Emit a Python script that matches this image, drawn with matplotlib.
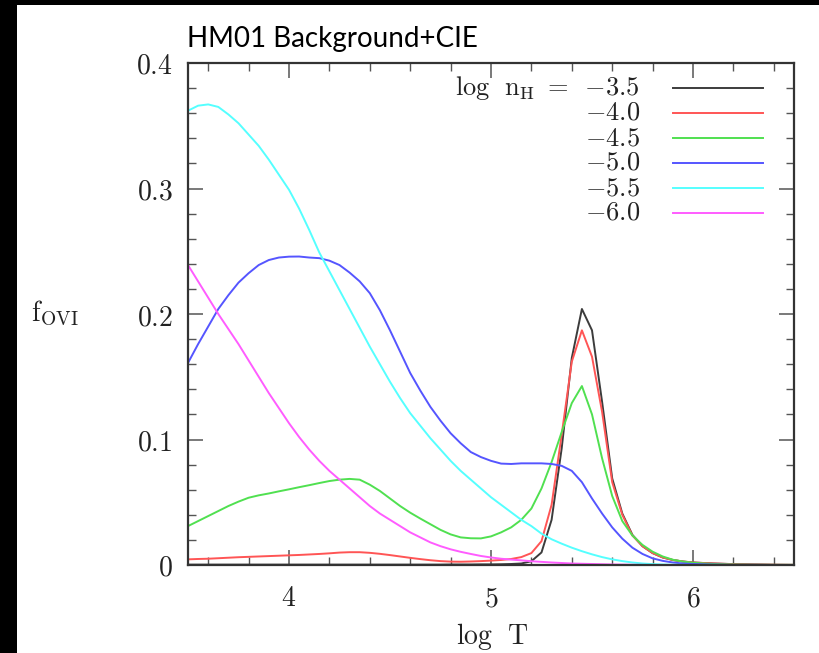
import matplotlib
matplotlib.use("Agg")
import matplotlib.pyplot as plt
from matplotlib.patches import Rectangle
from matplotlib.ticker import MultipleLocator, FixedLocator, FixedFormatter

plt.rcParams['mathtext.fontset'] = 'cm'

# ---------------- data ----------------
logT = [3.50, 3.55, 3.60, 3.65, 3.70, 3.75, 3.80, 3.85, 3.90, 3.95,
        4.00, 4.05, 4.10, 4.15, 4.20, 4.25, 4.30, 4.35, 4.40, 4.45,
        4.50, 4.55, 4.60, 4.65, 4.70, 4.75, 4.80, 4.85, 4.90, 4.95,
        5.00, 5.05, 5.10, 5.15, 5.20, 5.25, 5.30, 5.35, 5.40, 5.45,
        5.50, 5.55, 5.60, 5.65, 5.70, 5.75, 5.80, 5.85, 5.90, 5.95,
        6.00, 6.10, 6.20, 6.30, 6.40, 6.50]

f_m35 = [0.0003, 0.0003, 0.0003, 0.0003, 0.0003, 0.0003, 0.0003, 0.0003, 0.0003, 0.0003,
         0.0003, 0.0003, 0.0003, 0.0003, 0.0003, 0.0003, 0.0003, 0.0003, 0.0003, 0.0003,
         0.0003, 0.0003, 0.0003, 0.0003, 0.0003, 0.0003, 0.0004, 0.0004, 0.0004, 0.0005,
         0.0005, 0.0006, 0.0008, 0.0012, 0.0030, 0.010, 0.036, 0.093, 0.165, 0.204,
         0.187, 0.130, 0.069, 0.041, 0.024, 0.015, 0.0095, 0.006, 0.004, 0.0028,
         0.0020, 0.0012, 0.0007, 0.0004, 0.0002, 0.0001]
f_m40 = [0.0045, 0.0048, 0.0050, 0.0054, 0.0058, 0.0062, 0.0065, 0.0068, 0.0071, 0.0074,
         0.0077, 0.0080, 0.0084, 0.0088, 0.0093, 0.0099, 0.0102, 0.0102, 0.0097, 0.0089,
         0.0079, 0.0068, 0.0057, 0.0047, 0.0038, 0.0031, 0.0027, 0.0026, 0.0028, 0.0031,
         0.0035, 0.0040, 0.0048, 0.0063, 0.0095, 0.019, 0.048, 0.104, 0.162, 0.187,
         0.166, 0.122, 0.066, 0.040, 0.0235, 0.015, 0.0095, 0.006, 0.004, 0.0028,
         0.0020, 0.0012, 0.0007, 0.0004, 0.0002, 0.0001]
f_m45 = [0.031, 0.035, 0.039, 0.043, 0.047, 0.0505, 0.0536, 0.0555, 0.057, 0.0587,
         0.0603, 0.062, 0.0636, 0.0653, 0.0669, 0.068, 0.0686, 0.068, 0.064, 0.059,
         0.053, 0.047, 0.0417, 0.037, 0.0325, 0.028, 0.0244, 0.022, 0.0213, 0.0212,
         0.0228, 0.026, 0.030, 0.036, 0.045, 0.061, 0.082, 0.106, 0.129, 0.1426,
         0.120, 0.085, 0.055, 0.035, 0.0235, 0.016, 0.0106, 0.0068, 0.0042, 0.0027,
         0.0018, 0.0008, 0.0004, 0.0002, 0.0001, 0.0001]
f_m50 = [0.161, 0.176, 0.190, 0.204, 0.215, 0.225, 0.2325, 0.239, 0.243, 0.245,
         0.2457, 0.2458, 0.245, 0.2445, 0.2425, 0.239, 0.233, 0.226, 0.2166, 0.203,
         0.187, 0.170, 0.153, 0.139, 0.126, 0.115, 0.105, 0.097, 0.090, 0.086,
         0.083, 0.0808, 0.0805, 0.081, 0.081, 0.081, 0.0805, 0.079, 0.075, 0.066,
         0.053, 0.041, 0.030, 0.021, 0.0138, 0.0088, 0.0053, 0.0033, 0.0020, 0.0012,
         0.0008, 0.0003, 0.0001, 0.0001, 0.0, 0.0]
f_m55 = [0.362, 0.366, 0.367, 0.365, 0.359, 0.352, 0.343, 0.334, 0.323, 0.311,
         0.299, 0.284, 0.267, 0.249, 0.234, 0.219, 0.204, 0.189, 0.174, 0.160,
         0.146, 0.133, 0.121, 0.111, 0.101, 0.092, 0.083, 0.075, 0.068, 0.061,
         0.054, 0.048, 0.042, 0.036, 0.031, 0.025, 0.0205, 0.017, 0.0138, 0.011,
         0.0085, 0.0063, 0.0045, 0.0031, 0.0020, 0.0012, 0.0007, 0.0004, 0.0002, 0.0001,
         0.0, 0.0, 0.0, 0.0, 0.0, 0.0]
f_m60 = [0.239, 0.226, 0.213, 0.200, 0.188, 0.176, 0.163, 0.150, 0.137, 0.125,
         0.113, 0.102, 0.092, 0.083, 0.075, 0.068, 0.061, 0.054, 0.047, 0.041,
         0.036, 0.031, 0.026, 0.022, 0.018, 0.015, 0.0125, 0.0105, 0.0088, 0.0072,
         0.0060, 0.0050, 0.0043, 0.0037, 0.0030, 0.0025, 0.0020, 0.0016, 0.0012, 0.0010,
         0.0008, 0.0006, 0.0004, 0.0003, 0.0002, 0.0001, 0.0, 0.0, 0.0, 0.0,
         0.0, 0.0, 0.0, 0.0, 0.0, 0.0]

series = [f_m35, f_m40, f_m45, f_m50, f_m55, f_m60]
legend_labels = [r'$\mathrm{log\ \ n_{H}\ =\ \,}{-3.5}$', r'$-4.0$', r'$-4.5$',
                 r'$-5.0$', r'$-5.5$', r'$-6.0$']
colors = ['#3c3c3c', '#ff5555', '#50e050', '#5555ff', '#55ffff', '#ff5cff']

x_ticks = [4, 5, 6]
x_ticklabels = [r'$4$', r'$5$', r'$6$']
y_ticks = [0.0, 0.1, 0.2, 0.3, 0.4]
y_ticklabels = [r'$0$', r'$0.1$', r'$0.2$', r'$0.3$', r'$0.4$']

title_text = "HM01 Background+CIE"
xlabel_text = r'$\mathrm{log\ \ T}$'
ylabel_text = r'$\mathrm{f_{OVI}}$'

# ---------------- figure ----------------
W, H = 820, 653
fig = plt.figure(figsize=(W / 100, H / 100), dpi=100)
fig.patch.set_facecolor('white')

# black borders of the screenshot
fig.patches.append(Rectangle((0, 0), 17 / W, 1, transform=fig.transFigure,
                             facecolor='black', edgecolor='none', zorder=0))
fig.patches.append(Rectangle((0, 1 - 5 / H), 1, 5 / H, transform=fig.transFigure,
                             facecolor='black', edgecolor='none', zorder=0))

ax_l, ax_r, ax_t, ax_b = 188, 794, 63, 565
ax = fig.add_axes([ax_l / W, 1 - ax_b / H, (ax_r - ax_l) / W, (ax_b - ax_t) / H])

for ys, c in zip(series, colors):
    ax.plot(logT, ys, color=c, lw=1.4)

ax.set_xlim(3.5, 6.5)
ax.set_ylim(0, 0.4)

ax.xaxis.set_major_locator(FixedLocator(x_ticks))
ax.xaxis.set_major_formatter(FixedFormatter(x_ticklabels))
ax.xaxis.set_minor_locator(MultipleLocator(0.2))
ax.yaxis.set_major_locator(FixedLocator(y_ticks))
ax.yaxis.set_major_formatter(FixedFormatter(y_ticklabels))
ax.yaxis.set_minor_locator(MultipleLocator(0.02))

ax.tick_params(which='both', direction='in', top=True, right=True, color='#555555')
ax.tick_params(which='major', length=11, width=1.1, labelsize=20, labelcolor='#222222')
ax.tick_params(which='minor', length=6, width=1.0)
ax.tick_params(axis='x', which='major', pad=14)
ax.tick_params(axis='y', which='major', pad=11)
for sp in ax.spines.values():
    sp.set_linewidth(1.6)
    sp.set_color('#333333')

# legend (drawn manually to reproduce the layout)
row_top = (ax_b - 88) / (ax_b - ax_t)
row_step = 25 / (ax_b - ax_t)
line_x0 = (673 - ax_l) / (ax_r - ax_l)
line_x1 = (763 - ax_l) / (ax_r - ax_l)
text_xr = (640 - ax_l) / (ax_r - ax_l)
base_off = 7 / (ax_b - ax_t)
for i, (lab, c) in enumerate(zip(legend_labels, colors)):
    yy = row_top - i * row_step
    ax.plot([line_x0, line_x1], [yy, yy], transform=ax.transAxes, color=c, lw=1.4)
    ax.text(text_xr, yy - base_off, lab, transform=ax.transAxes, ha='right',
            va='baseline', fontsize=19, color='#222222')

# axis labels and title
fig.text(492 / W, 1 - 637 / H, xlabel_text, ha='center', va='center', fontsize=20,
         color='#222222')
fig.text(55 / W, 1 - 313 / H, ylabel_text, ha='center', va='center', fontsize=20,
         color='#222222')
fig.text(187 / W, 1 - 47 / H, title_text, ha='left', va='baseline', fontsize=20,
         family=['Lato', 'DejaVu Sans'], color='black')

fig.savefig('out.png', dpi=100, facecolor=fig.get_facecolor())
